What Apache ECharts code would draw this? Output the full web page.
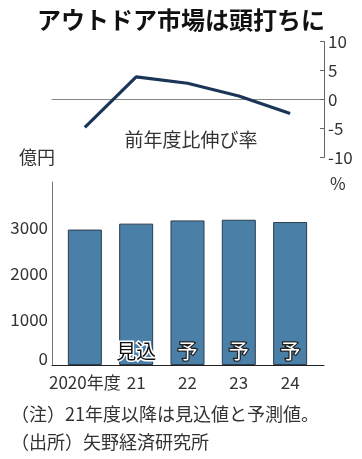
<!DOCTYPE html>
<html><head><meta charset="utf-8">
<script src="https://cdn.jsdelivr.net/npm/echarts@6/dist/echarts.min.js"></script>
<style>html,body{margin:0;padding:0;background:#fff}#c{width:362px;height:459px}</style>
</head><body><div id="c"></div>
<script>
const categories = ['2020年度', '21', '22', '23', '24'];
const growthRate = [-4.8, 3.9, 2.8, 0.6, -2.4];
const marketSize = [2960, 3090, 3160, 3175, 3125];
const barNotes = ['', '見込', '予', '予', '予'];
const rateTicks = [-10, -5, 0, 5, 10];
const sizeTicks = [0, 1000, 2000, 3000];

const F = '"Noto Sans CJK JP", "Noto Sans", sans-serif';
const chart = echarts.init(document.getElementById('c'), null, {renderer: 'canvas'});
const xBase = {type: 'value', min: -0.64, max: 4.66, splitLine: {show: false}, axisTick: {show: false}};
const noteStyle = {
  '見込': {color: '#111', textBorderColor: '#fff', textBorderWidth: 3},
  '予': {color: '#fff', textBorderColor: '#222', textBorderWidth: 2.5}
};
chart.setOption({
  animation: false,
  textStyle: {fontFamily: F},
  title: [
    {text: 'アウトドア市場は頭打ちに', left: 'center', top: 3, textStyle: {fontSize: 24, fontWeight: 'bold', color: '#111', fontFamily: F}},
    {text: '前年度比伸び率', left: 186, textAlign: 'center', top: 125, textStyle: {fontSize: 19, fontWeight: 'normal', color: '#333', fontFamily: F}},
    {text: '億円', left: 14, top: 143, textStyle: {fontSize: 18, fontWeight: 'normal', color: '#333', fontFamily: F}},
    {text: '%', left: 325, top: 170, textStyle: {fontSize: 17, fontWeight: 'normal', color: '#333', fontFamily: F}},
    {text: '（注）21年度以降は見込値と予測値。', left: 6, top: 400, textStyle: {fontSize: 18, fontWeight: 'normal', color: '#333', fontFamily: F}},
    {text: '（出所）矢野経済研究所', left: 6, top: 428, textStyle: {fontSize: 18, fontWeight: 'normal', color: '#333', fontFamily: F}}
  ],
  grid: [
    {left: 52, right: 38, top: 41.5, height: 116},
    {left: 52, right: 38, top: 182, bottom: 94}
  ],
  xAxis: [
    Object.assign({}, xBase, {gridIndex: 0, axisLine: {show: true, onZero: true, lineStyle: {color: '#888', width: 1}}, axisLabel: {show: false}}),
    Object.assign({}, xBase, {gridIndex: 1, axisLine: {show: true, onZero: false, lineStyle: {color: '#222', width: 1}},
      axisLabel: {show: true, customValues: [0, 1, 2, 3, 4], formatter: v => categories[Math.round(v)], fontSize: 17, color: '#333', margin: 9, fontFamily: F}})
  ],
  yAxis: [
    {type: 'value', gridIndex: 0, position: 'right', min: rateTicks[0], max: rateTicks[rateTicks.length - 1], interval: 5,
      axisLine: {show: true, onZero: false, lineStyle: {color: '#666'}}, axisTick: {show: true, inside: true, length: 4, lineStyle: {color: '#666'}},
      splitLine: {show: false}, axisLabel: {fontSize: 17, color: '#333', margin: 4, fontFamily: F}},
    {type: 'value', gridIndex: 1, position: 'left', min: 0, max: 4000, interval: 1000,
      axisLine: {show: true, onZero: false, lineStyle: {color: '#777'}}, axisTick: {show: false}, splitLine: {show: false},
      axisLabel: {fontSize: 17, color: '#333', margin: 4, showMaxLabel: false, fontFamily: F,
        formatter: v => v === 0 ? '{z|0}' : String(v), rich: {z: {fontSize: 17, color: '#333', padding: [0, 0, 13, 0], fontFamily: F}}}}
  ],
  series: [
    {type: 'line', xAxisIndex: 0, yAxisIndex: 0, data: growthRate.map((v, i) => [i, v]),
      symbol: 'none', lineStyle: {color: '#1b3558', width: 3.2}},
    {type: 'bar', xAxisIndex: 1, yAxisIndex: 1, barWidth: 34,
      itemStyle: {color: '#4a7fa8', borderColor: '#2b3d4f', borderWidth: 1},
      data: marketSize.map((v, i) => ({
        value: [i, v],
        label: barNotes[i] ? Object.assign({show: true, position: 'insideBottom', distance: 4, formatter: barNotes[i], fontSize: 20, fontFamily: F}, noteStyle[barNotes[i]]) : {show: false}
      }))}
  ]
});
</script></body></html>
